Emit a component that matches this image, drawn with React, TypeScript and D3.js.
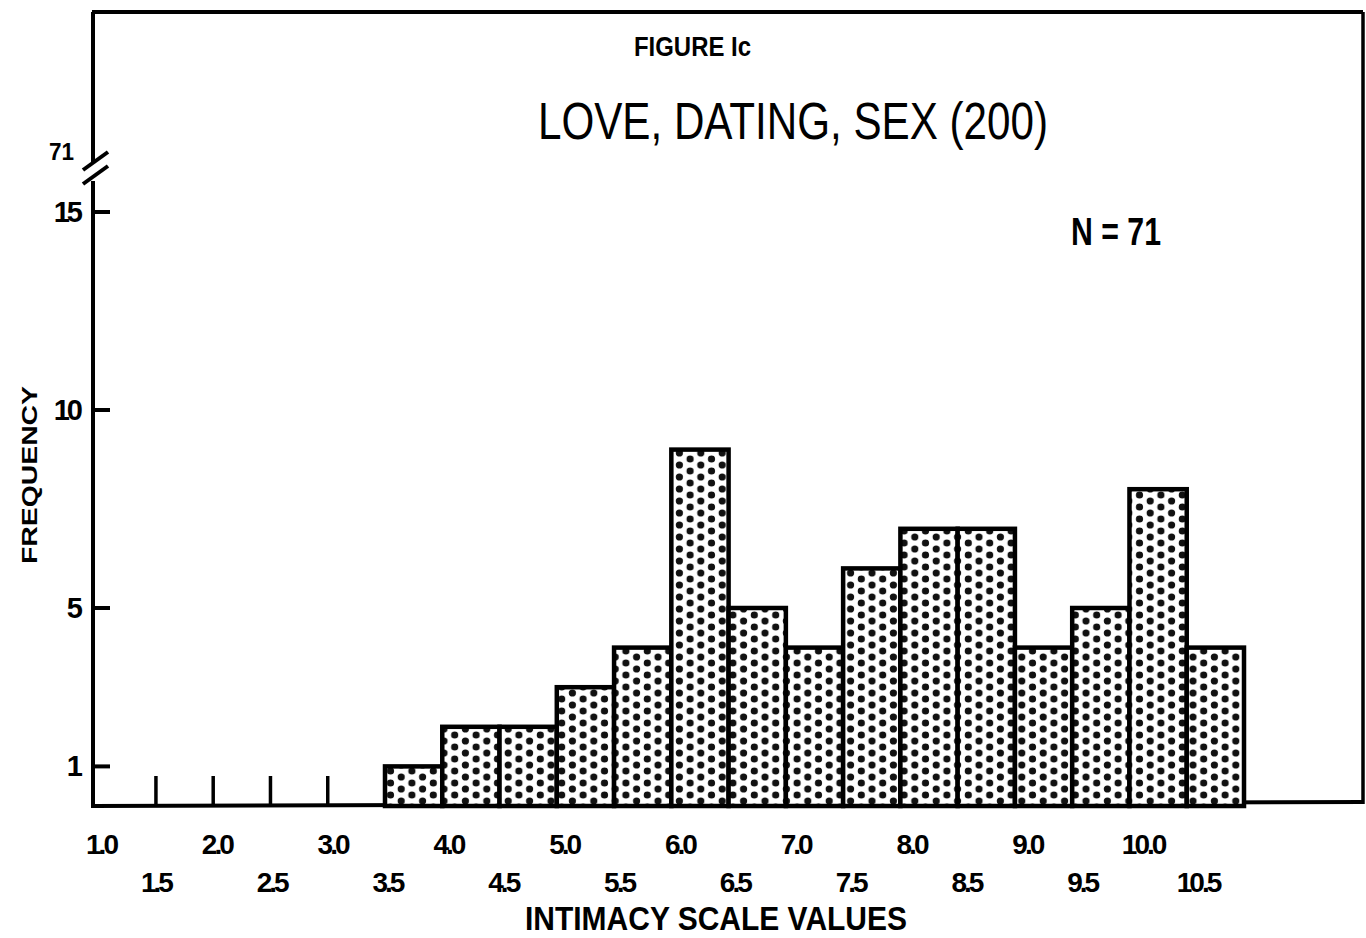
import React from "react";
import * as d3 from "d3";

// ---- data ----
const binCenters: number[] = [3.5, 4.0, 4.5, 5.0, 5.5, 6.0, 6.5, 7.0, 7.5, 8.0, 8.5, 9.0, 9.5, 10.0, 10.5];
const frequencies: number[] = [1, 2, 2, 3, 4, 9, 5, 4, 6, 7, 7, 4, 5, 8, 4];
const emptyBinEdges: number[] = [1.25, 1.75, 2.25, 2.75];
const wholeLabels: number[] = [1.0, 2.0, 3.0, 4.0, 5.0, 6.0, 7.0, 8.0, 9.0, 10.0];
const halfLabels: number[] = [1.5, 2.5, 3.5, 4.5, 5.5, 6.5, 7.5, 8.5, 9.5, 10.5];
const yTicks: number[] = [1, 5, 10, 15];
const breakLabel = "71";
const figureLabel = "FIGURE Ic";
const title = "LOVE, DATING, SEX (200)";
const nLabel = "N = 71";
const xTitle = "INTIMACY SCALE VALUES";
const yTitle = "FREQUENCY";

const W = 1366;
const H = 938;

export default function App() {
  const xBar = d3.scaleLinear().domain([3.25, 10.75]).range([385, 1244]);
  const xLab = d3.scaleLinear().domain([1, 10.5]).range([101, 1201]);
  const y = d3.scaleLinear().domain([0, 15]).range([806, 212]);

  const axisX = 93;
  const font = "'Liberation Sans', Arial, sans-serif";

  return (
    <svg
      width={W}
      height={H}
      style={{ position: "absolute", left: 0, top: 0, background: "#fff" }}
    >
      <defs>
        <pattern id="dots" width={21.4} height={12} patternUnits="userSpaceOnUse">
          <rect width={21.4} height={12} fill="#fff" />
          <circle cx={5.3} cy={3} r={3.6} fill="#111" />
          <circle cx={16} cy={9} r={3.6} fill="#111" />
          <circle cx={5.3} cy={15} r={3.6} fill="#111" />
          <circle cx={16} cy={-3} r={3.6} fill="#111" />
        </pattern>
      </defs>
      <rect width={W} height={H} fill="#fff" />

      {/* frame */}
      <line x1={axisX - 1} y1={12} x2={1363} y2={12} stroke="#000" strokeWidth={4} />
      <line x1={1363} y1={12} x2={1363} y2={804} stroke="#000" strokeWidth={3.5} />
      <line x1={axisX} y1={y(0)} x2={1363} y2={y(0) - 4} stroke="#000" strokeWidth={4} />
      {/* y axis with break */}
      <line x1={axisX} y1={12} x2={axisX} y2={162} stroke="#000" strokeWidth={4} />
      <line x1={axisX} y1={181} x2={axisX} y2={y(0) + 2} stroke="#000" strokeWidth={4} />
      <line x1={83} y1={170} x2={108} y2={152} stroke="#000" strokeWidth={4} />
      <line x1={83} y1={184} x2={108} y2={166} stroke="#000" strokeWidth={4} />
      <text x={49} y={160} fontFamily={font} fontWeight="bold" fontSize={24} textLength={25} lengthAdjust="spacingAndGlyphs">{breakLabel}</text>

      {/* y ticks */}
      {yTicks.map((t) => (
        <g key={t}>
          <line x1={axisX} y1={y(t)} x2={axisX + 17} y2={y(t)} stroke="#000" strokeWidth={4} />
          <text
            x={axisX - 13}
            y={y(t) + 10}
            textAnchor="end"
            fontFamily={font}
            fontWeight="bold"
            fontSize={29}
            letterSpacing={-3}
          >
            {t}
          </text>
        </g>
      ))}

      {/* empty-bin separators */}
      {emptyBinEdges.map((e) => (
        <line key={e} x1={xBar(e)} y1={y(0)} x2={xBar(e)} y2={y(0) - 30} stroke="#000" strokeWidth={3.5} />
      ))}

      {/* bars */}
      {binCenters.map((c, i) => {
        const x0 = xBar(c - 0.25);
        const x1 = xBar(c + 0.25);
        return (
          <rect
            key={c}
            x={x0}
            y={y(frequencies[i])}
            width={x1 - x0}
            height={y(0) - y(frequencies[i])}
            fill="url(#dots)"
            stroke="#000"
            strokeWidth={4.5}
          />
        );
      })}

      {/* x labels */}
      {wholeLabels.map((v) => (
        <text
          key={"w" + v}
          x={xLab(v)}
          y={854}
          textAnchor="middle"
          fontFamily={font}
          fontWeight="bold"
          fontSize={28}
          letterSpacing={-3}
        >
          {v.toFixed(1)}
        </text>
      ))}
      {halfLabels.map((v) => (
        <text
          key={"h" + v}
          x={xLab(v) - 3}
          y={892}
          textAnchor="middle"
          fontFamily={font}
          fontWeight="bold"
          fontSize={28}
          letterSpacing={-3}
        >
          {v.toFixed(1)}
        </text>
      ))}

      <text x={525} y={930} fontFamily={font} fontWeight="bold" fontSize={33} textLength={382} lengthAdjust="spacingAndGlyphs">
        {xTitle}
      </text>

      <text
        transform={`translate(37, 564) rotate(-90)`}
        fontFamily={font}
        fontWeight="bold"
        fontSize={22}
        textLength={178}
        lengthAdjust="spacingAndGlyphs"
      >
        {yTitle}
      </text>

      {/* titles */}
      <text x={634} y={56} fontFamily={font} fontWeight="bold" fontSize={27} textLength={117} lengthAdjust="spacingAndGlyphs">
        {figureLabel}
      </text>
      <text x={538} y={139} fontFamily={font} fontSize={51} textLength={510} lengthAdjust="spacingAndGlyphs">
        {title}
      </text>
      <text x={1071} y={245} fontFamily={font} fontWeight="bold" fontSize={38} textLength={90} lengthAdjust="spacingAndGlyphs">
        {nLabel}
      </text>
    </svg>
  );
}
